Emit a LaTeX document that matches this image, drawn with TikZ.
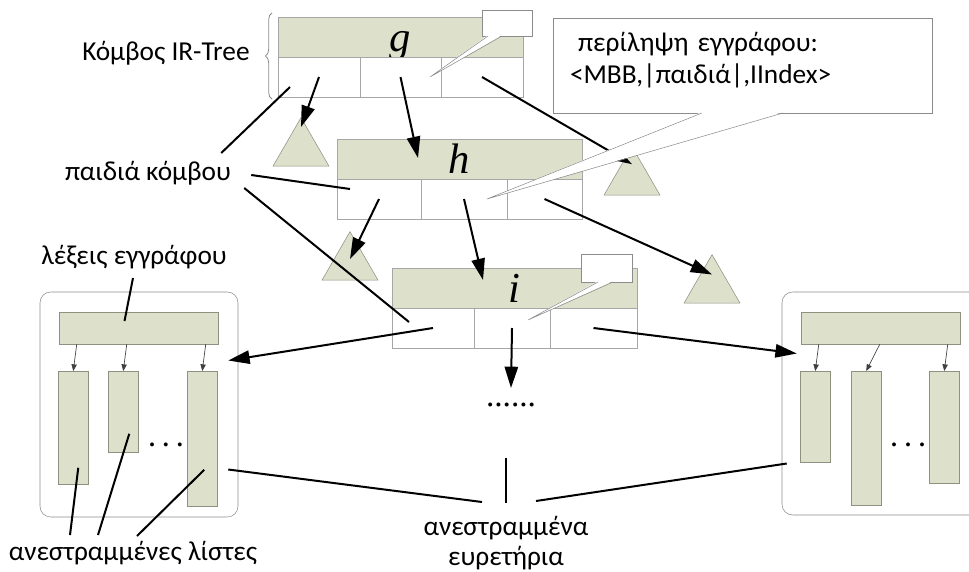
\documentclass[tikz,border=0pt]{standalone}
\usepackage{fontspec}
\setmainfont{Carlito}
\newfontfamily\letterfont{Liberation Serif}
\usetikzlibrary{arrows.meta,positioning,calc,shapes.geometric,decorations.pathreplacing}
\definecolor{Sage}{HTML}{DDE0CB}
\definecolor{SageEdge}{HTML}{8E9080}
\definecolor{Grid}{HTML}{A6A6A6}
\definecolor{Frame}{HTML}{8C8C8C}
\tikzset{
 bar/.style={draw=Grid, fill=Sage, minimum width=183.75pt, minimum height=30pt, inner sep=0pt, outer sep=0pt,
   text height=25.5pt, text depth=4.5pt, font=\letterfont\itshape\fontsize{32}{32}\selectfont},
 cell/.style={draw=Grid, fill=white, minimum height=30pt, inner sep=0pt, outer sep=0pt, anchor=north west},
 subtree/.style={regular polygon, regular polygon sides=3, draw=SageEdge, fill=Sage, minimum size=48.5pt, inner sep=0pt},
 idxbox/.style={draw=Frame, rounded corners=8pt, minimum width=148.5pt, inner sep=0pt},
 vocab/.style={draw=SageEdge, fill=Sage, minimum width=119.25pt, minimum height=24pt, inner sep=0pt},
 plist/.style={draw=SageEdge, fill=Sage, minimum width=22.5pt, inner sep=0pt, anchor=north west},
 note/.style={draw=Frame, fill=white, inner sep=0pt, outer sep=0pt},
 lbl/.style={font=\fontsize{20.5}{22.5}\selectfont, align=center, inner sep=0pt},
 arrow/.style={-{Triangle[length=16pt,width=10pt]}, line width=1.5pt},
 leader/.style={line width=1.5pt},
 thinarrow/.style={-{Triangle[length=5pt,width=4pt]}, line width=0.5pt, draw=black!75},
 ellipsis/.style={font=\letterfont\bfseries\fontsize{18}{18}\selectfont, inner sep=0pt}
}
% open wedge under a note: node, left and right end of its base, tip
\newcommand{\notewedge}[4]{%
  \fill[white] ($(#1.south)+(#2,-1)$) -- (#4) -- ($(#1.south)+(#3,-1)$) -- cycle;
  \draw[draw=Frame] ($(#1.south)+(#2,0)$) -- (#4) -- ($(#1.south)+(#3,0)$);}

\begin{document}
\begin{tikzpicture}[x=0.75pt,y=-0.75pt]
\useasboundingbox (0,0) rectangle (969,571);
% inverted indexes
\node[idxbox, minimum height=168.75pt] (lidx) at (139,404.5) {};
\node[idxbox, minimum height=167.25pt] (ridx) at (881,403.5) {};
\node[vocab] (lbar) at (138.5,328) {};
\node[vocab] (rbar) at (880.5,328) {};
\foreach \n/\x/\b in {lc1/58/484, lc2/108/452, lc3/187/506, rc1/800/462, rc2/851/505, rc3/929/483}
  \node[plist, minimum height={(\b-371)*0.75pt}] (\n) at (\x,371) {};
\foreach \c/\b/\d in {lc1/lbar/18, lc2/lbar/68, lc3/lbar/147, rc1/rbar/18, rc2/rbar/79, rc3/rbar/147}
  \draw[thinarrow] ($(\b.south west)+(\d,0)$) -- (\c.north);
\node[ellipsis, anchor=base] (ldots) at (166,446) {. . .};
\node[ellipsis, anchor=base] (rdots) at (908,446) {. . .};

% IR-tree nodes and their entries
\foreach \n/\x/\y/\a/\b in {g/278/17/82/81, h/337/139/84/86, i/392/268/82/76}{
  \node[bar, anchor=north west] (\n) at (\x,\y) {\n};
  \node[cell, minimum width={\a*0.75pt}] (\n1) at (\n.south west) {};
  \node[cell, minimum width={\b*0.75pt}] (\n2) at (\n1.north east) {};
  \node[cell, minimum width={(245-\a-\b)*0.75pt}] (\n3) at (\n2.north east) {};
}
\node[subtree] (t1) at (301,150) {};
\node[subtree] (t2) at (350,264) {};
\node[subtree] (t3) at (632,179) {};
\node[subtree] (t4) at (712,287) {};
\node[ellipsis, font=\letterfont\fontsize{25}{25}\selectfont, anchor=base] (more) at (511,406) {......};

\draw[arrow] (g1.center) -- ($(t1.corner 1)!0.3!(t1.center)$);
\draw[arrow] (g2.center) -- ($(h.north west)+(81,19)$);
\draw[arrow] (g3.center) -- ($(t3.corner 1)!0.55!(t3.center)$);
\draw[arrow] (h1.center) -- ($(t2.corner 1)!0.85!(t2.center)$);
\draw[arrow] (h2.center) -- ($(i.north west)+(91,12)$);
\draw[arrow] (h3.center) -- ($(t4.corner 1)!0.62!(t4.center)$);
\draw[arrow] (i1.center) -- ($(lidx.east)+(-10,-44)$);
\draw[arrow] (i2.center) -- ($(more.base)+(0,-18)$);
\draw[arrow] (i3.center) -- ($(ridx.west)+(15,-50)$);

% labels
\node[lbl] (root) at (166,53) {Κόμβος IR-Tree};
\draw[decorate, decoration={brace, amplitude=5pt}, draw=Frame, line width=0.6pt]
  ($(g1.south west)+(-6,2)$) -- ($(g.north west)+(-6,-4)$);

\node[lbl] (kids) at (148,173) {παιδιά κόμβου};
\draw[leader] ($(kids.east)+(-10,-20)$) -- ($(g1.center)+(-29,10)$);
\draw[leader] ($(kids.east)+(20,2)$) -- ($(h1.center)+(-29,-10)$);
\draw[leader] ($(kids.east)+(13,15)$) -- ($(i1.center)+(-24,-6)$);

\node[lbl] (words) at (134,257) {λέξεις εγγράφου};
\draw[leader] ($(words.center)+(-1,21)$) -- ($(lbar.center)+(-14,-7)$);

\node[lbl] (lists) at (133,553) {ανεστραμμένες λίστες};
\draw[leader] ($(lists.center)+(-63,-18)$) -- ($(lc1.center)+(5,40)$);
\draw[leader] ($(lists.center)+(-35,-18)$) -- ($(lc2.center)+(6,22)$);
\draw[leader] ($(lists.center)+(4,-17)$) -- ($(lc3.center)+(2,31)$);

\node[lbl] (idx) at (506,543) {ανεστραμμένα\\ευρετήρια};
\draw[leader] ($(more.base)+(-5,52)$) -- ($(idx.center)+(0,-40)$);
\draw[leader] ($(idx.center)+(-24,-41)$) -- ($(lidx.east)+(-10,65)$);
\draw[leader] ($(idx.center)+(30,-42)$) -- ($(ridx.west)+(5,60)$);

% document summaries
\node[note, minimum width=37.5pt, minimum height=19.5pt] (gnote) at (507,23) {};
\notewedge{gnote}{-19}{-5}{$(g2.center)+(29.5,0)$}
\node[note, text width=258.75pt, inner xsep=12.75pt, minimum height=71.25pt, align=left,
  font=\fontsize{20.5}{24}\selectfont] (summary) at (742.5,65.5)
  {\hspace{6pt}περίληψη εγγράφου:\\<MBB,|παιδιά|,IIndex>\\[-12pt]\mbox{}};
\notewedge{summary}{-40.5}{40.5}{$(h2.center)+(23,0)$}
\node[note, minimum width=38.25pt, minimum height=21pt] (inote) at (606.5,268) {};
\notewedge{inote}{-8.5}{6.5}{$(i2.center)+(16,-8)$}
\end{tikzpicture}
\end{document}
